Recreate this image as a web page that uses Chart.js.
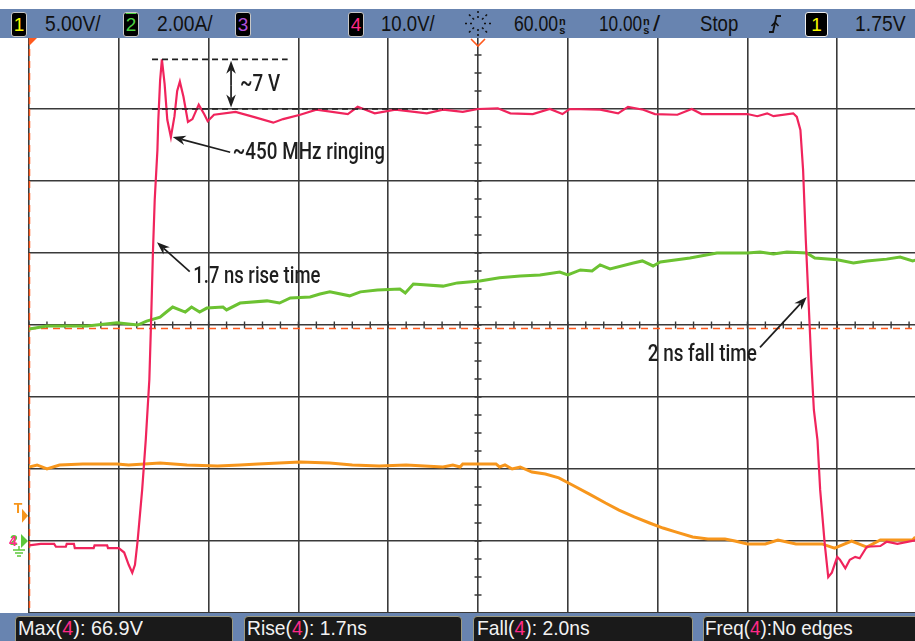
<!DOCTYPE html>
<html>
<head>
<meta charset="utf-8">
<script src="https://cdn.jsdelivr.net/npm/chart.js@4.4.1/dist/chart.umd.min.js"></script>
<style>
html, body { margin: 0; padding: 0; background: #fff; overflow: hidden; }
#wrap { position: relative; width: 915px; height: 641px; overflow: hidden; }
#scope { position: absolute; left: 0; top: 0; }
.bar { position: absolute; left: 0; width: 915px; background: #6884b0; }
.chbox { position: absolute; background: #000; border: 1px solid #c8c8c8; border-radius: 3px;
         box-sizing: border-box; text-align: center; font: 19px "Liberation Sans", Arial, sans-serif; line-height: 23px; }
.mbox { position: absolute; background: #1a1a1a; border: 1.5px solid #9c9a80; border-radius: 4px; box-sizing: border-box; }
.lbl { position: absolute; white-space: nowrap; font-family: "Liberation Sans", Arial, sans-serif;
       transform-origin: 0 50%; line-height: 1; }
.hd { color: #111; font-size: 22px; }
.ft { color: #f2f2f2; font-size: 21px; }
.c4 { color: #ff2a88; }
.stk { display: inline-block; font-size: 11px; line-height: 9px; font-weight: bold; vertical-align: -3px; text-align: center; }
</style>
</head>
<body>
<div id="wrap">
  <canvas id="scope" width="915" height="641"></canvas>

  <div class="bar" style="top:9px;height:29px"></div>
  <div class="chbox" style="left:11px;top:12px;width:16px;height:25px;color:#f8f800">1</div>
  <div class="lbl hd" data-x="45" data-y="24" data-w="56">5.00V/</div>
  <div class="chbox" style="left:123px;top:12px;width:16px;height:25px;color:#4cd040;text-decoration:overline">2</div>
  <div class="lbl hd" data-x="157" data-y="24" data-w="56">2.00A/</div>
  <div class="chbox" style="left:235px;top:12px;width:16px;height:25px;color:#b050d8">3</div>
  <div class="chbox" style="left:348px;top:12px;width:16px;height:25px;color:#ff2a88">4</div>
  <div class="lbl hd" data-x="381" data-y="24" data-w="54">10.0V/</div>
  <svg style="position:absolute;left:463px;top:10px" width="30" height="27" viewBox="0 0 30 27">
    <g stroke="#111" stroke-width="1.6">
      <line x1="15" y1="1" x2="15" y2="3"/><line x1="15" y1="6" x2="15" y2="8"/>
      <line x1="15" y1="19" x2="15" y2="21"/><line x1="15" y1="24" x2="15" y2="26"/>
      <line x1="2" y1="13.5" x2="4" y2="13.5"/><line x1="7" y1="13.5" x2="9" y2="13.5"/>
      <line x1="21" y1="13.5" x2="23" y2="13.5"/><line x1="26" y1="13.5" x2="28" y2="13.5"/>
      <line x1="6" y1="4.5" x2="7.5" y2="6"/><line x1="9.5" y1="8" x2="11" y2="9.5"/>
      <line x1="24" y1="4.5" x2="22.5" y2="6"/><line x1="20.5" y1="8" x2="19" y2="9.5"/>
      <line x1="6" y1="22.5" x2="7.5" y2="21"/><line x1="9.5" y1="19" x2="11" y2="17.5"/>
      <line x1="24" y1="22.5" x2="22.5" y2="21"/><line x1="20.5" y1="19" x2="19" y2="17.5"/>
    </g>
  </svg>
  <div class="lbl hd" data-x="514" data-y="24" data-w="44">60.00</div>
  <div class="lbl hd" data-x="559" data-y="24"><span class="stk">n<br>s</span></div>
  <div class="lbl hd" data-x="599" data-y="24" data-w="43">10.00</div>
  <div class="lbl hd" data-x="643" data-y="24"><span class="stk">n<br>s</span></div>
  <div class="lbl hd" data-x="653" data-y="24" data-w="7">/</div>
  <div class="lbl hd" data-x="700" data-y="24" data-w="38">Stop</div>
  <svg style="position:absolute;left:768px;top:13px" width="14" height="22" viewBox="0 0 14 22">
    <path d="M1 19 L5 19 L8.5 3 L13 3" fill="none" stroke="#111" stroke-width="1.8"/>
    <path d="M3.5 13 L7 9.5 L10.5 13" fill="none" stroke="#111" stroke-width="1.6"/>
  </svg>
  <div class="chbox" style="left:805px;top:12px;width:23px;height:25px;color:#f8f800;border-color:#f0f0f0;border-width:1.5px">1</div>
  <div class="lbl hd" data-x="855" data-y="24" data-w="51">1.75V</div>

  <div class="bar" style="top:613px;height:28px"></div>
  <div class="mbox" style="left:15px;top:616px;width:218px;height:32px"></div>
  <div class="mbox" style="left:244px;top:616px;width:218px;height:32px"></div>
  <div class="mbox" style="left:473px;top:616px;width:220px;height:32px"></div>
  <div class="mbox" style="left:703px;top:616px;width:230px;height:32px"></div>
  <div class="lbl ft" data-x="18" data-y="627" data-w="125">Max(<span class="c4">4</span>): 66.9V</div>
  <div class="lbl ft" data-x="247" data-y="627" data-w="120">Rise(<span class="c4">4</span>): 1.7ns</div>
  <div class="lbl ft" data-x="477" data-y="627" data-w="113">Fall(<span class="c4">4</span>): 2.0ns</div>
  <div class="lbl ft" data-x="705" data-y="627" data-w="148">Freq(<span class="c4">4</span>):No edges</div>
</div>

<script>
// time axis in ns (10 ns/div, 60 ns delay, centre reference)
const xTicks = [10, 20, 30, 40, 50, 60, 70, 80, 90, 100];
const xMax = 108.66;

// channel 4 - switch node voltage (V), 10 V/div
const ch4Time = [10.0, 11.3, 12.8, 13.0, 14.1, 14.2, 15.0, 15.1, 17.2, 17.3,
    18.7, 18.8, 20.0, 20.6, 21.1, 21.5, 21.8, 22.1, 22.6, 23.0,
    23.4, 23.6, 23.8, 24.0, 24.3, 24.4, 24.6, 24.8, 25.1, 25.4,
    25.8, 26.2, 26.5, 26.8, 27.2, 27.7, 28.2, 28.9, 29.5, 29.9,
    30.6, 33.0, 35.0, 37.2, 38.3, 40.2, 42.0, 45.5, 46.6, 48.5,
    50.8, 54.3, 56.1, 58.3, 60.0, 62.2, 63.6, 66.1, 68.0, 69.4,
    70.2, 73.6, 75.6, 76.7, 78.4, 79.7, 82.2, 83.8, 84.9, 90.0,
    91.1, 92.2, 92.9, 95.1, 95.5, 95.9, 96.2, 96.5, 96.8, 97.1,
    97.4, 97.8, 98.1, 98.6, 99.0, 99.4, 100.0, 100.3, 100.9, 101.4,
    102.0, 102.5, 103.3, 104.8, 105.5, 106.7, 108.7];
const ch4Volts = [-0.6, -0.4, -0.4, -0.8, -0.8, -0.4, -0.4, -1.0, -1.0, -0.6,
    -0.6, -1.0, -1.0, -1.6, -3.3, -4.4, -3.3, 0.1, 7.1, 14.0,
    22.4, 30.7, 40.1, 47.4, 54.3, 58.5, 64.0, 66.9, 63.5, 58.5,
    56.1, 59.0, 62.5, 63.8, 61.7, 58.2, 58.6, 60.6, 59.3, 58.3,
    59.2, 59.6, 58.9, 58.1, 58.6, 59.2, 59.9, 59.3, 60.3, 59.4,
    59.9, 59.4, 59.9, 59.6, 60.0, 60.1, 59.4, 59.3, 60.0, 59.3,
    60.0, 59.9, 59.4, 60.3, 59.9, 59.3, 59.2, 60.0, 59.3, 59.3,
    59.0, 59.4, 59.0, 59.4, 58.9, 57.1, 51.5, 41.8, 33.5, 25.1,
    18.2, 14.0, 7.1, -0.3, -5.0, -4.4, -2.2, -2.6, -3.8, -2.6,
    -2.2, -2.4, -0.8, -0.7, -0.1, -0.4, 0.1];

// channel 2 - current (A), 2 A/div
const ch2Time = [10.0, 11.2, 12.0, 14.2, 16.5, 19.8, 22.1, 23.1, 24.6, 25.3,
    26.0, 27.4, 28.1, 29.0, 29.8, 31.6, 32.0, 33.5, 36.5, 37.9,
    39.1, 41.3, 42.4, 43.5, 45.7, 46.9, 48.8, 51.3, 51.9, 52.8,
    56.1, 57.7, 60.2, 62.4, 64.7, 66.9, 69.1, 70.0, 71.4, 72.7,
    73.6, 74.7, 77.3, 78.3, 79.5, 80.3, 83.6, 86.6, 90.0, 91.4,
    92.9, 94.4, 96.6, 97.5, 100.0, 101.8, 103.3, 105.5, 107.0, 108.4, 108.7];
const ch2Amps = [5.89, 5.94, 5.97, 5.97, 5.97, 6.06, 6.0, 6.11, 6.22, 6.36,
    6.5, 6.36, 6.5, 6.36, 6.47, 6.5, 6.42, 6.61, 6.67, 6.61,
    6.75, 6.78, 6.86, 6.92, 6.81, 6.92, 6.97, 7.0, 6.89, 7.14,
    7.08, 7.17, 7.22, 7.31, 7.36, 7.39, 7.47, 7.39, 7.53, 7.5,
    7.67, 7.56, 7.72, 7.78, 7.64, 7.75, 7.86, 8.0, 8.0, 8.03,
    7.97, 8.03, 8.0, 7.86, 7.81, 7.72, 7.78, 7.83, 7.89, 7.78, 7.8];

// channel 1 - gate drive (V), 5 V/div
const ch1Time = [10.0, 10.9, 12.0, 13.4, 16.0, 17.1, 18.7, 19.8, 21.1, 24.6,
    27.6, 31.0, 33.5, 35.5, 40.2, 43.5, 46.0, 49.0, 52.0, 56.1,
    57.2, 58.0, 58.3, 62.0, 62.4, 63.0, 63.8, 64.7, 66.0, 67.5,
    69.0, 70.5, 72.4, 74.2, 75.7, 77.4, 79.1, 80.6, 82.0, 83.9,
    85.6, 87.5, 88.6, 90.0, 92.0, 93.4, 95.4, 98.3, 99.7, 101.6,
    103.3, 104.8, 108.4, 108.7];
const ch1Volts = [5.14, 5.28, 5.0, 5.28, 5.35, 5.35, 5.35, 5.35, 5.28, 5.42,
    5.28, 5.21, 5.28, 5.35, 5.49, 5.42, 5.28, 5.21, 5.28, 5.14,
    5.28, 5.14, 5.35, 5.35, 5.14, 5.28, 5.0, 5.14, 4.79, 4.65,
    4.38, 3.89, 3.26, 2.64, 2.15, 1.67, 1.25, 0.9, 0.63, 0.28,
    0.14, 0.14, 0.0, -0.2, -0.2, 0.07, -0.2, -0.2, -0.49, 0.0,
    -0.42, 0.07, 0.07, 0.28];

// reference level (dashed orange line), in channel 4 volts
const refLevel = 29.5;

// callouts: positions in (ns, ch4 volts)
const dashLines = [[23.7, 38.8, 66.9], [23.7, 56.1, 60.0]];
const callouts = [
    { text: "~450 MHz ringing", tx: 32.7, ty: 53.9, tw: 152, from: [32.4, 54.0], to: [26.0, 56.1] },
    { text: "1.7 ns rise time", tx: 28.3, ty: 36.7, tw: 127, from: [27.9, 37.4], to: [24.25, 41.5] },
    { text: "2 ns fall time", tx: 78.9, ty: 25.8, tw: 109, from: [91.4, 26.9], to: [96.6, 33.9] },
];

function pts(xs, ys) {
    return xs.map(function (x, i) { return { x: x, y: ys[i] }; });
}

function arrow(ctx, x1, y1, x2, y2) {
    const a = Math.atan2(y2 - y1, x2 - x1), L = 13, W = 4.8;
    const c = Math.cos(a), s = Math.sin(a);
    ctx.beginPath();
    ctx.moveTo(x1, y1);
    ctx.lineTo(x2 - c * L * 0.7, y2 - s * L * 0.7);
    ctx.stroke();
    ctx.beginPath();
    ctx.moveTo(x2, y2);
    ctx.lineTo(x2 - L * c + W * s, y2 - L * s - W * c);
    ctx.lineTo(x2 - L * 0.7 * c, y2 - L * 0.7 * s);
    ctx.lineTo(x2 - L * c - W * s, y2 - L * s + W * c);
    ctx.closePath();
    ctx.fill();
}

function fitText(ctx, txt, x, y, w) {
    const m = ctx.measureText(txt).width;
    ctx.save();
    ctx.translate(x, y);
    ctx.scale(w / m, 1);
    ctx.fillText(txt, 0, 0);
    ctx.restore();
}

const scopeMarks = {
    id: "scopeMarks",
    beforeDatasetsDraw(chart) {
        const ctx = chart.ctx, xs = chart.scales.x, ys = chart.scales.y, a = chart.chartArea;
        const cx = xs.getPixelForValue(60), cy = ys.getPixelForValue(30);
        ctx.save();
        // minor ticks on the centre axes
        ctx.strokeStyle = "#3a3a3a";
        ctx.lineWidth = 1.4;
        ctx.beginPath();
        for (let t = 10; t <= xMax; t += 2) {
            const px = xs.getPixelForValue(t);
            ctx.moveTo(px, cy - 3.5); ctx.lineTo(px, cy + 3.5);
        }
        for (let v = -10; v <= 70; v += 2.5) {
            const py = ys.getPixelForValue(v);
            ctx.moveTo(cx - 3.5, py); ctx.lineTo(cx + 3.5, py);
        }
        ctx.stroke();
        // dashed orange markers
        ctx.strokeStyle = "#ff5a1e";
        ctx.lineWidth = 1.5;
        ctx.setLineDash([7, 5]);
        ctx.beginPath();
        const ry = ys.getPixelForValue(refLevel);
        ctx.moveTo(a.left, ry); ctx.lineTo(a.right, ry);
        ctx.moveTo(a.left + 0.5, a.top); ctx.lineTo(a.left + 0.5, a.bottom);
        ctx.stroke();
        ctx.setLineDash([]);
        ctx.restore();
    },
    afterDatasetsDraw(chart) {
        const ctx = chart.ctx, xs = chart.scales.x, ys = chart.scales.y, a = chart.chartArea;
        const X = function (t) { return xs.getPixelForValue(t); };
        const Y = function (v) { return ys.getPixelForValue(v); };
        ctx.save();
        ctx.strokeStyle = "#1e1e1e";
        ctx.fillStyle = "#1e1e1e";
        ctx.lineWidth = 1.7;
        ctx.setLineDash([6, 4]);
        dashLines.forEach(function (d) {
            ctx.beginPath();
            ctx.moveTo(X(d[0]), Y(d[2]));
            ctx.lineTo(X(d[1]), Y(d[2]));
            ctx.stroke();
        });
        ctx.setLineDash([]);
        // ~7 V double arrow
        arrow(ctx, X(32.5), Y(63.3), X(32.5), Y(66.7));
        arrow(ctx, X(32.5), Y(63.3), X(32.5), Y(60.2));
        ctx.font = '500 24px Roboto, "Liberation Sans", Arial, sans-serif';
        ctx.textBaseline = "middle";
        fitText(ctx, "~7 V", X(33.5), Y(63.3), 40);
        callouts.forEach(function (c) {
            arrow(ctx, X(c.from[0]), Y(c.from[1]), X(c.to[0]), Y(c.to[1]));
            fitText(ctx, c.text, X(c.tx), Y(c.ty), c.tw);
        });

        // top markers: trigger off-screen left, delay at centre
        ctx.fillStyle = "#ff5a1e";
        ctx.beginPath();
        ctx.moveTo(a.left, a.top + 1); ctx.lineTo(a.left + 8, a.top + 1); ctx.lineTo(a.left, a.top + 9);
        ctx.closePath(); ctx.fill();
        ctx.strokeStyle = "#ff5a1e";
        ctx.lineWidth = 1.6;
        const cx = X(60);
        ctx.beginPath();
        ctx.moveTo(cx - 7, a.top + 2); ctx.lineTo(cx, a.top + 9); ctx.lineTo(cx + 7, a.top + 2);
        ctx.stroke();

        // left side markers: trigger level and ground reference
        const ty = chart.scales.y1.getPixelForValue(1.75);
        ctx.fillStyle = "#f7961c";
        ctx.beginPath();
        ctx.moveTo(a.left - 7, ty - 7); ctx.lineTo(a.left - 1, ty); ctx.lineTo(a.left - 7, ty + 7);
        ctx.closePath(); ctx.fill();
        ctx.font = 'bold 14px "Liberation Sans", Arial, sans-serif';
        ctx.textAlign = "center";
        ctx.fillText("T", a.left - 11, ty - 7);
        const gy = Y(0);
        ctx.fillStyle = "#5cc83a";
        ctx.beginPath();
        ctx.moveTo(a.left - 8, gy - 7); ctx.lineTo(a.left - 1, gy); ctx.lineTo(a.left - 8, gy + 7);
        ctx.closePath(); ctx.fill();
        ctx.fillText("2", a.left - 15, gy);
        ctx.fillStyle = "#ff2a88";
        ctx.fillText("4", a.left - 16, gy + 1);
        ctx.strokeStyle = "#5cc83a";
        ctx.lineWidth = 1.4;
        ctx.beginPath();
        ctx.moveTo(a.left - 10, gy + 5); ctx.lineTo(a.left - 10, gy + 9);
        ctx.moveTo(a.left - 16, gy + 9); ctx.lineTo(a.left - 4, gy + 9);
        ctx.moveTo(a.left - 14, gy + 12); ctx.lineTo(a.left - 6, gy + 12);
        ctx.moveTo(a.left - 12, gy + 15); ctx.lineTo(a.left - 8, gy + 15);
        ctx.stroke();
        ctx.restore();
    }
};

const gridStyle = { color: "#3a3a3a", lineWidth: 1.6, drawTicks: false };

document.addEventListener("DOMContentLoaded", function () {
    document.querySelectorAll(".lbl").forEach(function (el) {
        el.style.left = el.dataset.x + "px";
        el.style.top = (+el.dataset.y - el.offsetHeight / 2) + "px";
        if (el.dataset.w) {
            el.style.transform = "scaleX(" + (+el.dataset.w / el.offsetWidth) + ")";
        }
    });

    const canvas = document.getElementById("scope");
    new Chart(canvas.getContext("2d"), {
        type: "line",
        data: {
            datasets: [
                { label: "Ch4", data: pts(ch4Time, ch4Volts), yAxisID: "y", borderColor: "#f0245c",
                  borderWidth: 2.2, pointRadius: 0, tension: 0, order: 0 },
                { label: "Ch2", data: pts(ch2Time, ch2Amps), yAxisID: "y2", borderColor: "#6cc232",
                  borderWidth: 3, pointRadius: 0, tension: 0, order: 1 },
                { label: "Ch1", data: pts(ch1Time, ch1Volts), yAxisID: "y1", borderColor: "#f7961c",
                  borderWidth: 3, pointRadius: 0, tension: 0, order: 2 },
            ],
        },
        options: {
            responsive: false,
            animation: false,
            events: [],
            layout: { padding: { left: 29, top: 37, right: 0, bottom: 28 } },
            plugins: { legend: { display: false }, tooltip: { enabled: false } },
            scales: {
                x: {
                    type: "linear", min: 10, max: xMax,
                    afterBuildTicks: function (s) { s.ticks = xTicks.map(function (v) { return { value: v }; }); },
                    ticks: { display: false },
                    grid: gridStyle,
                    border: { display: false },
                },
                y: {
                    min: -10, max: 70,
                    ticks: { display: false, stepSize: 10 },
                    grid: gridStyle,
                    border: { display: false },
                },
                y1: { display: false, min: -5, max: 35 },
                y2: { display: false, min: -2, max: 14 },
            },
        },
        plugins: [scopeMarks],
    });
});
</script>
</body>
</html>
